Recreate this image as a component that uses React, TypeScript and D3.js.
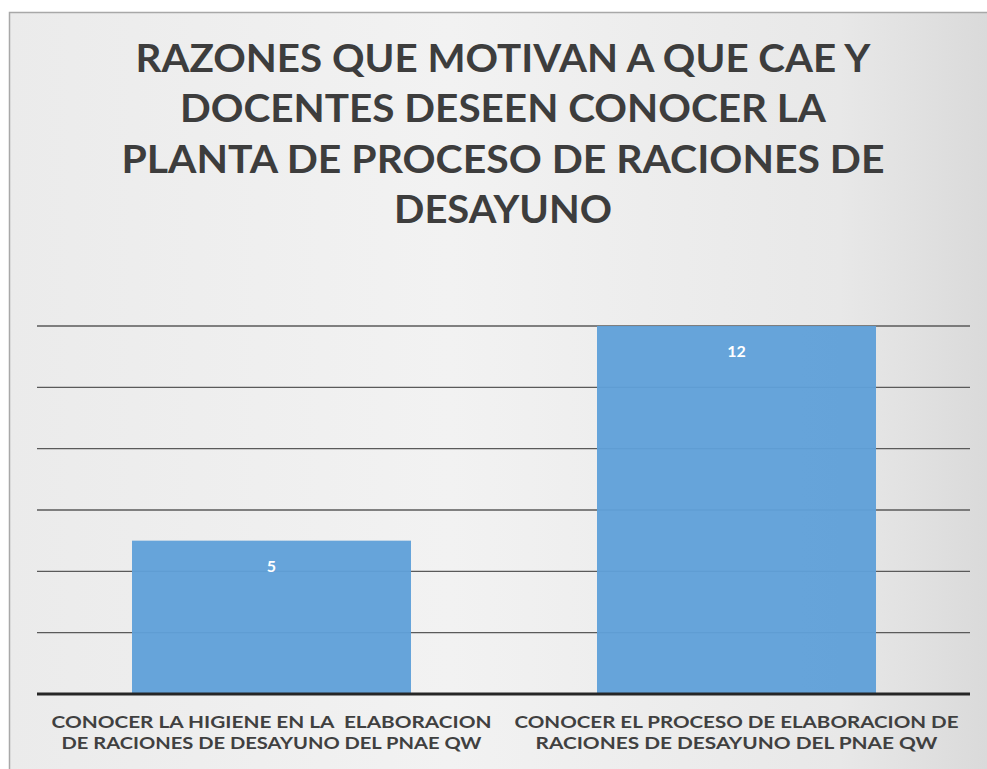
import { useEffect, useRef } from "react";
import * as d3 from "d3";

// Datos del gráfico
const categorias = [
  ["CONOCER LA HIGIENE EN LA  ELABORACION", "DE RACIONES DE DESAYUNO DEL PNAE QW"],
  ["CONOCER EL PROCESO DE ELABORACION DE", "RACIONES DE DESAYUNO DEL PNAE QW"],
];
const valores = [5, 12];
const ticksY = [0, 2, 4, 6, 8, 10, 12];
const tituloLineas = [
  "RAZONES QUE MOTIVAN A QUE CAE Y",
  "DOCENTES DESEEN CONOCER LA",
  "PLANTA DE PROCESO DE RACIONES DE",
  "DESAYUNO",
];

// anchos aproximados (px) de cada línea para imitar la fuente estrecha del original
const anchoTitulo = [735, 646, 763, 218];
const anchoCategorias = [
  [440, 420],
  [444, 402],
];

const App = () => {
  const ref = useRef<SVGSVGElement | null>(null);

  useEffect(() => {
    if (!ref.current) return;
    const W = 987;
    const H = 769;
    const svg = d3.select(ref.current);
    svg.selectAll("*").remove();

    // Fondo con degradado gris
    const defs = svg.append("defs");
    const grad = defs
      .append("linearGradient")
      .attr("id", "fondo")
      .attr("x1", "0%")
      .attr("x2", "100%")
      .attr("y1", "0%")
      .attr("y2", "0%");
    grad.append("stop").attr("offset", "0%").attr("stop-color", "#ebebeb");
    grad.append("stop").attr("offset", "45%").attr("stop-color", "#f2f2f2");
    grad.append("stop").attr("offset", "85%").attr("stop-color", "#e8e8e8");
    grad.append("stop").attr("offset", "100%").attr("stop-color", "#dadada");

    svg.append("rect").attr("width", W).attr("height", H).attr("fill", "#ffffff");
    svg
      .append("rect")
      .attr("x", 9)
      .attr("y", 12)
      .attr("width", W - 9)
      .attr("height", H - 12)
      .attr("fill", "url(#fondo)");
    svg
      .append("path")
      .attr("d", `M9.5,${H} V12.5 H${W}`)
      .attr("fill", "none")
      .attr("stroke", "#a8a8a8")
      .attr("stroke-width", 1.5);

    // Título
    const titulo = svg
      .append("text")
      .attr("text-anchor", "middle")
      .style("font-family", "Lato, 'Open Sans', sans-serif")
      .style("font-weight", "700")
      .style("font-size", "38px")
      .style("fill", "#3d3d3d");
    tituloLineas.forEach((l, i) => {
      titulo
        .append("tspan")
        .attr("x", 503)
        .attr("y", 72 + i * 50.3)
        .attr("textLength", anchoTitulo[i])
        .attr("lengthAdjust", "spacingAndGlyphs")
        .text(l);
    });

    const margin = { left: 39, right: 18, top: 326, bottom: 75 };
    const x = d3
      .scaleBand<number>()
      .domain(valores.map((_, i) => i))
      .range([margin.left, W - margin.right])
      .paddingInner(0.4)
      .paddingOuter(0.2);

    const y = d3
      .scaleLinear()
      .domain([0, 12])
      .range([H - margin.bottom, margin.top]);

    const gx0 = 37;
    const gx1 = 970;

    // Grid horizontal
    svg
      .append("g")
      .selectAll("line")
      .data(ticksY.slice(1))
      .enter()
      .append("line")
      .attr("x1", gx0)
      .attr("x2", gx1)
      .attr("y1", (d) => y(d))
      .attr("y2", (d) => y(d))
      .attr("stroke", "#5a5a5a")
      .attr("stroke-width", 1.3);

    // Barras
    svg
      .append("g")
      .selectAll("rect")
      .data(valores)
      .enter()
      .append("rect")
      .attr("x", (_, i) => x(i)!)
      .attr("y", (d) => y(d))
      .attr("width", x.bandwidth())
      .attr("height", (d) => y(0) - y(d))
      .attr("fill", "#60a0d9")
      .attr("fill-opacity", 0.96);

    // Línea base
    svg
      .append("line")
      .attr("x1", gx0)
      .attr("x2", gx1)
      .attr("y1", y(0))
      .attr("y2", y(0))
      .attr("stroke", "#262626")
      .attr("stroke-width", 3);

    // Etiquetas de valores
    svg
      .append("g")
      .selectAll("text")
      .data(valores)
      .enter()
      .append("text")
      .attr("x", (_, i) => x(i)! + x.bandwidth() / 2)
      .attr("y", (d) => y(d) + 31)
      .attr("text-anchor", "middle")
      .style("font-family", "Lato, 'Open Sans', sans-serif")
      .style("font-weight", "700")
      .style("font-size", "16px")
      .style("fill", "#ffffff")
      .text((d) => d);

    // Etiquetas de categorías
    const cats = svg
      .append("g")
      .selectAll("text")
      .data(categorias)
      .enter()
      .append("text")
      .attr("text-anchor", "middle")
      .style("font-family", "Lato, 'Open Sans', sans-serif")
      .style("font-weight", "700")
      .style("font-size", "17px")
      .style("fill", "#404040")
      .style("white-space", "pre");
    cats
      .selectAll("tspan")
      .data((d, i) => d.map((t, j) => ({ t, i, j })))
      .enter()
      .append("tspan")
      .attr("x", (d) => x(d.i)! + x.bandwidth() / 2)
      .attr("y", (d) => 728 + d.j * 21)
      .attr("textLength", (d) => anchoCategorias[d.i][d.j])
      .attr("lengthAdjust", "spacingAndGlyphs")
      .text((d) => d.t);
  }, []);

  return (
    <svg
      ref={ref}
      width={987}
      height={769}
      style={{ position: "absolute", left: 0, top: 0, display: "block" }}
    />
  );
};

export default App;
